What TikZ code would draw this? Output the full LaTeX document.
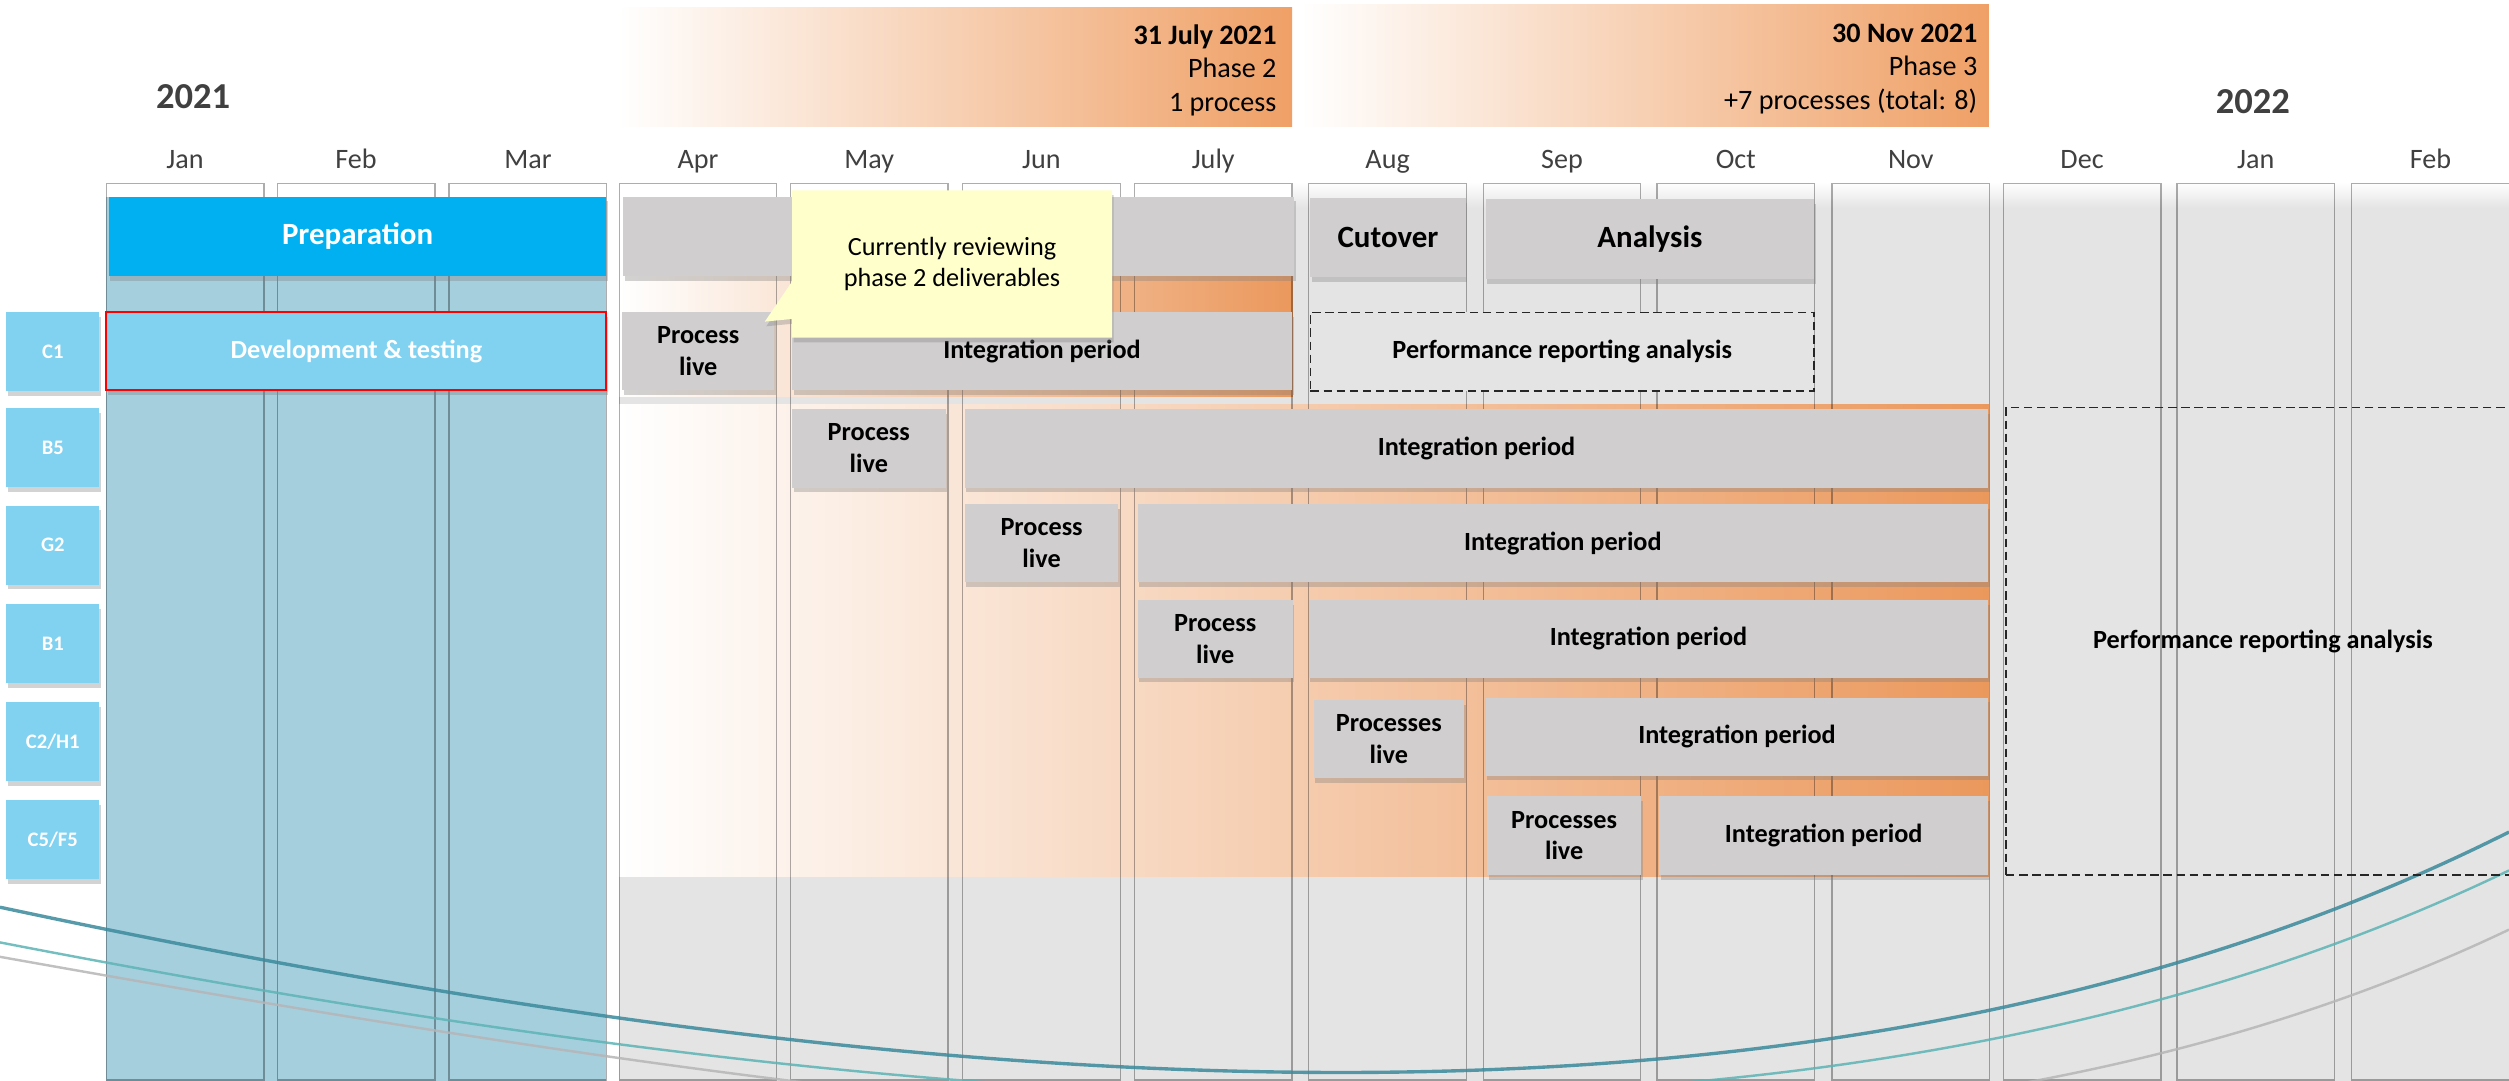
\documentclass[tikz,border=0pt]{standalone}
\usepackage{fontspec}
\setmainfont{Carlito}
\usetikzlibrary{shadows, shapes.callouts}

\definecolor{bargrey}{HTML}{D0CECE}
\definecolor{bggrey}{HTML}{E4E4E4}
\definecolor{prepblue}{HTML}{00B0F0}
\definecolor{devblue}{HTML}{81D1F0}
\definecolor{colblue}{HTML}{A6CFDE}
\definecolor{phaseorange}{HTML}{EB985C}
\definecolor{banorange}{HTML}{EFA066}
\definecolor{noteyellow}{HTML}{FFFFCC}
\definecolor{labelgrey}{HTML}{404040}
\definecolor{curveA}{HTML}{3A8A9C}
\definecolor{curveB}{HTML}{5DB3B5}
\definecolor{curveC}{HTML}{B5B5B5}

\begin{document}
\begin{tikzpicture}[x=0.03cm, y=-0.03cm,
  spanbox/.style args={(#1,#2)(#3,#4)}{at={({(#1+#3)/2},{(#2+#4)/2})}, inner sep=0pt,
    minimum width={(#3-#1)*0.03cm}, minimum height={(#4-#2)*0.03cm}},
  boxshadow/.style={drop shadow={shadow xshift=0.8pt, shadow yshift=-2.5pt, opacity=0.35}},
  ganttbar/.style={spanbox={#1}, fill=bargrey, align=center, boxshadow,
    font=\fontsize{14}{17}\selectfont\bfseries},
  bigtext/.style={font=\fontsize{16.5}{20}\selectfont\bfseries},
  perfbox/.style={spanbox={#1}, draw=black!85, line width=0.7pt, dash pattern=on 4.5pt off 2.5pt,
    align=center, font=\fontsize{14}{17}\selectfont\bfseries},
  rowlab/.style={spanbox={#1}, fill=devblue, text=white, boxshadow,
    font=\fontsize{11}{13}\selectfont\bfseries},
  banner/.style={spanbox={#1}, left color=white, right color=banorange},
  bannertext/.style={inner sep=0pt, align=right, font=\fontsize{15}{18}\selectfont},
  month/.style={text=labelgrey, font=\fontsize{15}{18}\selectfont},
  year/.style={text=labelgrey, font=\fontsize{19.5}{22}\selectfont\bfseries},
  colline/.style={draw=black, draw opacity=0.32, line width=0.7pt},
  callnote/.style={rectangle callout, fill=noteyellow, align=center, boxshadow,
    callout pointer width=0.7cm, font=\fontsize{14}{17}\selectfont}]

\useasboundingbox (0,0) rectangle (1568.1,675.6);
\clip (0,0) rectangle (1568.1,675.6);

% backgrounds
\fill[bggrey] (387,128) rectangle (1568.1,675.6);
\fill[top color=white, bottom color=bggrey] (387,114) rectangle (1568.1,130);
\fill[white] (387,114) rectangle (808,173);
\fill[left color=white, right color=phaseorange] (387,173) rectangle (808,248);
\fill[left color=white, right color=phaseorange] (387,253) rectangle (1243,548);
\fill[colblue] (66,123) rectangle (379,675.6);

% month columns
\foreach \x/\m [count=\i] in {66.4/Jan, 173.3/Feb, 280.7/Mar, 387/Apr, 494/May, 601.6/Jun, 709/July,
    818/Aug, 927/Sep, 1035.6/Oct, 1145/Nov, 1252/Dec, 1360.6/Jan, 1469.8/Feb}{
  \draw[colline] (\x,114.5) rectangle (\x+98.5,675);
  \node[month, anchor=base] (m\i) at (\x+49.25,105) {\m};
}

\draw[curveA, line width=1.8pt, opacity=0.85] (0,567) .. controls (600,695) and (1150,730) .. (1568.1,520);
\draw[curveB, line width=1.3pt, opacity=0.85] (0,589) .. controls (600,705) and (1150,745) .. (1568.1,544);
\draw[curveC, line width=1.3pt, opacity=0.85] (0,598) .. controls (600,705) and (1150,780) .. (1568.1,581);

\node[year, anchor=base] (y21) at (120.7,67.7) {2021};
\node[year, anchor=base] (y22) at (1408,70.8) {2022};

\node[banner={(386,5)(807.5,79)}] (ph2box) {};
\node[bannertext, anchor=east] (ph2) at (798,44) {\textbf{31 July 2021}\\Phase 2\\1 process};
\node[banner={(813,3)(1243,79)}] (ph3box) {};
\node[bannertext, anchor=east] (ph3) at (1236,43) {\textbf{30 Nov 2021}\\Phase 3\\+7 processes (total: 8)};

% phases
\node[ganttbar={(68,123)(379,172.5)}, fill=prepblue, text=white, bigtext] (prep) {Preparation};
\node[ganttbar={(389.4,123)(808.8,172.5)}] (ph2bar) {};
\node[ganttbar={(819,124)(916,173.4)}, bigtext] (cutover) {Cutover};
\node[ganttbar={(928.6,124.6)(1133.8,174.6)}, bigtext] (analysis) {Analysis};

% process rows
\node[rowlab={(4,195)(62,244.4)}] (rC1) {C1};
\node[rowlab={(4,255)(62,304.4)}] (rB5) {B5};
\node[rowlab={(4,316)(62,365.4)}] (rG2) {G2};
\node[rowlab={(4,377.5)(62,426.9)}] (rB1) {B1};
\node[rowlab={(4,439)(62,488.4)}] (rC2) {C2/H1};
\node[rowlab={(4,500)(62,549.4)}] (rC5) {C5/F5};

\node[ganttbar={(66.5,195)(379,243.8)}, fill=devblue, text=white, draw=red, line width=1.1pt] (dev) {Development \& testing};
\node[ganttbar={(389,195)(483.8,244)}] (c1live) {Process\\live};
\node[ganttbar={(495,195)(807.5,244)}] (c1int) {Integration period};
\node[perfbox={(819,195.2)(1133.8,244.4)}, fill=bggrey] (c1perf) {Performance reporting analysis};

\node[ganttbar={(495,255.8)(591,304.8)}] (b5live) {Process\\live};
\node[ganttbar={(603,255.8)(1242.6,304.8)}] (b5int) {Integration period};

\node[ganttbar={(603,315)(699,363.9)}] (g2live) {Process\\live};
\node[ganttbar={(711,315)(1242.6,363.9)}] (g2int) {Integration period};

\node[ganttbar={(711,375)(808,423.6)}] (b1live) {Process\\live};
\node[ganttbar={(818,375)(1242.6,423.6)}] (b1int) {Integration period};

\node[ganttbar={(821,437.5)(915,486.5)}] (c2live) {Processes\\live};
\node[ganttbar={(928.6,436)(1242.6,484.8)}] (c2int) {Integration period};

\node[ganttbar={(929.6,497.5)(1025.6,547)}] (c5live) {Processes\\live};
\node[ganttbar={(1037,497.5)(1242.6,547)}] (c5int) {Integration period};

\node[perfbox={(1253.7,254.6)(1575,546.9)}] (perf) {Performance reporting analysis};

\node[callnote, callout absolute pointer={(478,201)}, minimum width=6cm, minimum height=2.76cm] (note) at (595,165) {Currently reviewing\\phase 2 deliverables};
\end{tikzpicture}
\end{document}
